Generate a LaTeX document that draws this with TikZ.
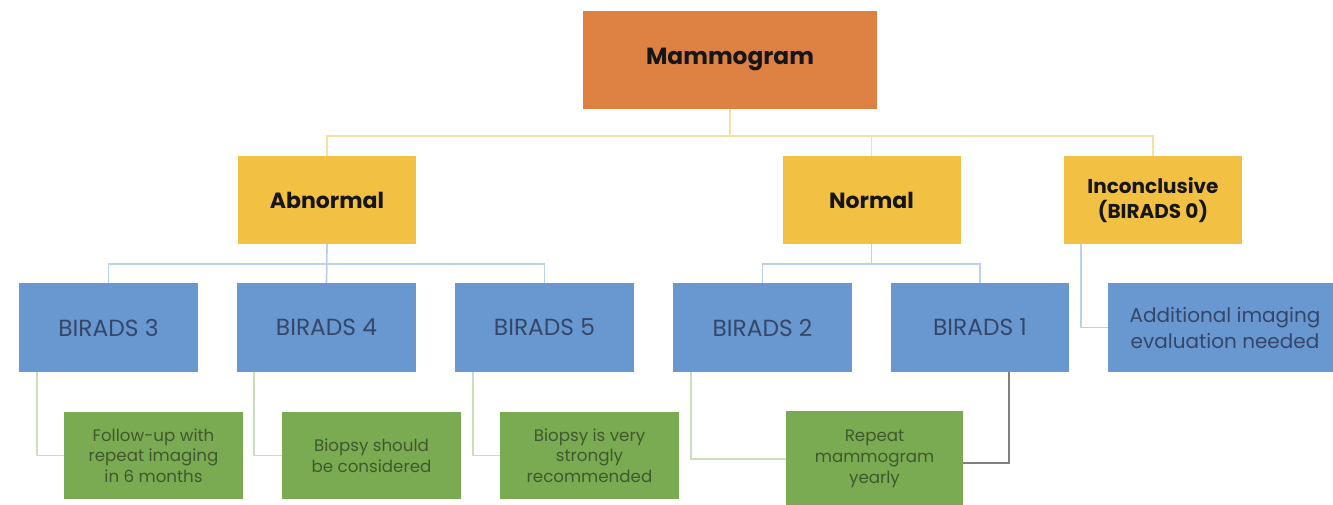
\documentclass[tikz,border=0pt]{standalone}
\usepackage{fontspec}
\setmainfont{Poppins}
\newdimen\pxu
\pxu=0.75pt
\definecolor{mamfill}{HTML}{DE8243}
\definecolor{catfill}{HTML}{F2C043}
\definecolor{birfill}{HTML}{6898CF}
\definecolor{actfill}{HTML}{7AAA51}
\definecolor{ylink}{HTML}{F8DFA2}
\definecolor{blink}{HTML}{B9D0EE}
\definecolor{glink}{HTML}{CCDFBC}
\definecolor{dlink}{HTML}{7F7F7F}
\definecolor{birtext}{HTML}{34476A}
\definecolor{acttext}{HTML}{3E5A2C}
\definecolor{headtext}{HTML}{161616}
\tikzset{
  box/.style={rectangle, inner sep=0pt, outer sep=0pt, align=center},
  topbox/.style={box, fill=mamfill, minimum width=294\pxu, minimum height=98\pxu,
    text=headtext, font=\fontsize{17.5}{22}\selectfont\bfseries},
  catbox/.style={box, fill=catfill, minimum width=178\pxu, minimum height=88\pxu,
    text=headtext, font=\fontsize{16.5}{20}\selectfont\bfseries},
  birbox/.style={box, fill=birfill, minimum width=179\pxu, minimum height=89\pxu,
    text=birtext, font=\fontsize{17.5}{19.5}\selectfont},
  actbox/.style={box, fill=actfill, minimum width=179\pxu, minimum height=87\pxu,
    text=acttext, font=\fontsize{12.5}{15.5}\selectfont},
  ylinkline/.style={draw=ylink, line width=1.3pt},
  blinkline/.style={draw=blink, line width=1.3pt},
  glinkline/.style={draw=glink, line width=1.3pt},
  dlinkline/.style={draw=dlink, line width=1pt},
}
\begin{document}
\begin{tikzpicture}[x=0.75pt, y=-0.75pt]
\clip (0,0) rectangle (1333,505);
\fill[white] (0,0) rectangle (1333,505);

% bus levels
\coordinate (ybus) at (0,136);
\coordinate (bbus) at (0,264);

% root and categories
\node[topbox] (mam) at (730,60) {Mammogram};
\node[catbox] (abn) at (327,200) {Abnormal};
\node[catbox] (nor) at (871.5,200) {Normal};
\node[catbox, font=\fontsize{15}{19}\selectfont\bfseries] (inc) at (1153,200)
  {Inconclusive\\(BIRADS 0)};

% BIRADS categories
\node[birbox] (b3) at (108.5,327.5) {BIRADS 3};
\node[birbox] (b4) at (326.5,327.5) {BIRADS 4};
\node[birbox] (b5) at (544.5,327.5) {BIRADS 5};
\node[birbox] (b2) at (762.5,327.5) {BIRADS 2};
\node[birbox, minimum width=178\pxu] (b1) at (980,327.5) {BIRADS 1};
\node[birbox, minimum width=234\pxu, font=\fontsize{15}{19.5}\selectfont] (add) at (1225,327.5)
  {Additional imaging\\evaluation needed};

% recommended actions
\node[actbox] (g3) at (153.5,455.5) {Follow-up with\\repeat imaging\\in 6 months};
\node[actbox] (g4) at (371.5,455.5) {Biopsy should\\be considered};
\node[actbox] (g5) at (589.5,455.5) {Biopsy is very\\strongly\\recommended};
\node[actbox, minimum width=177\pxu, minimum height=96\pxu] (g1) at (874.5,459)
  {Repeat\\mammogram\\yearly};

% root to categories
\draw[ylinkline] (mam.south) -- (mam.south |- ybus);
\draw[ylinkline] (abn.north) |- (inc.north |- ybus) -- (inc.north);
\draw[ylinkline] (nor.north) -- (nor.north |- ybus);

% abnormal branch
\draw[blinkline] (abn.south) -- (b4.north);
\draw[blinkline] (b3.north) |- (b5.north |- bbus) -- (b5.north);

% normal branch
\draw[blinkline] (nor.south) -- (nor.south |- bbus);
\draw[blinkline] (b2.north) |- (b1.north |- bbus) -- (b1.north);

% inconclusive branch
\draw[blinkline] ([xshift=-72\pxu]inc.south) |- (add.west);

% actions
\draw[glinkline] ([xshift=18\pxu]b3.south west) |- (g3.west);
\draw[glinkline] ([xshift=17\pxu]b4.south west) |- (g4.west);
\draw[glinkline] ([xshift=18\pxu]b5.south west) |- (g5.west);
\draw[glinkline] ([xshift=18\pxu]b2.south west) |- (g1.west);
\draw[dlinkline] ([xshift=-60\pxu]b1.south east) |- ([yshift=-4\pxu]g1.east);
\end{tikzpicture}
\end{document}
